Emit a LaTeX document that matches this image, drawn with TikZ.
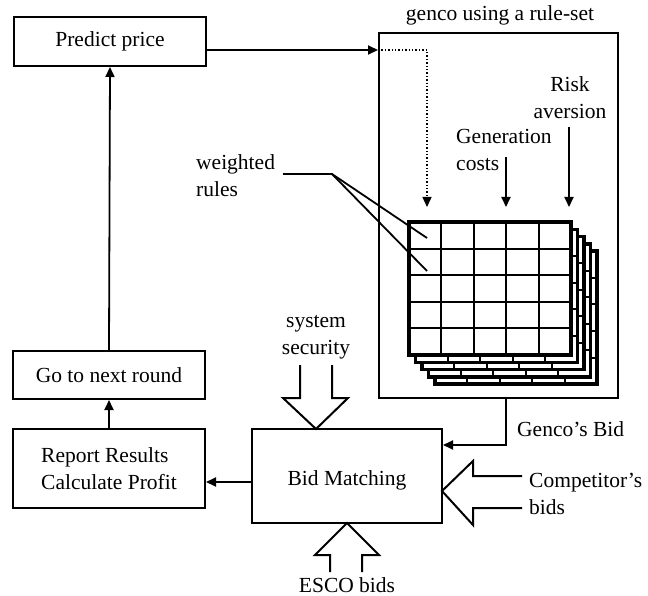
\documentclass[tikz,border=0pt]{standalone}
\usepackage{fontspec}
\setmainfont{Liberation Serif}
\usetikzlibrary{arrows.meta,calc}
\begin{document}
\begin{tikzpicture}[x=1pt,y=-1pt,
  every node/.style={font=\fontsize{21.5}{27}\selectfont, inner sep=0pt},
  box/.style={draw, line width=2pt, minimum width=192pt},
  arr/.style={line width=1.8pt, -{Triangle[length=10pt,width=9pt]}},
  dotarr/.style={line width=1.4pt, dotted, -{Triangle[length=10pt,width=9pt]}},
  plain/.style={line width=1.8pt},
  blockarr/.style={line width=2pt, line join=miter},
  gridbord/.style={line width=3.5pt, fill=white},
  gridline/.style={line width=2pt}
]
\useasboundingbox (0,0) rectangle (648,596);

% boxes
\node[box, minimum height=49pt] (pp) at (110,41.5) {Predict price};
\node[box, minimum height=48pt] (gn) at (109,375) {Go to next round};
\node[box, minimum height=79pt, align=left] (rr) at (109,468.5) {Report Results\\Calculate Profit};
\node[box, minimum width=190pt, minimum height=94pt] (bm) at (347,476) {};
\node (bmt) at (347,480) {Bid Matching};
\node[draw, line width=2pt, minimum width=239pt, minimum height=365pt] (genco) at (498.5,215.5) {};
\node (gtitle) at (500,15) {genco using a rule-set};

% stacked rule grids (back to front)
\foreach \k in {4,3,2,1,0} {
  \begin{scope}[shift={({6.5*\k},{7.3*\k})}]
    \draw[gridbord] (409,222) rectangle (571,355);
    \foreach \cx in {441.4,473.8,506.2,538.6}
      \draw[gridline] (\cx,222) -- (\cx,355);
    \foreach \ry in {248.6,275.2,301.8,328.4}
      \draw[gridline] (409,\ry) -- (571,\ry);
    \draw[line width=3.5pt] (409,222) rectangle (571,355);
  \end{scope}
}

% predict price -> genco (solid then dotted inside)
\coordinate (dcorner) at (427,50);
\coordinate (dtip) at (427,207);
\coordinate (gedge) at (genco.west |- dcorner);
\draw[arr] (pp.east |- dcorner) -- (gedge);
\draw[dotarr] (gedge) -- (dcorner) -- (dtip);

% generation costs and risk aversion
\node[align=left, anchor=west] (gc) at (456,150) {Generation\\costs};
\coordinate (gcs) at (506,157);
\coordinate (gct) at (506,207);
\draw[arr] (gcs) -- (gct);
\node[align=center] (ra) at (570,98) {Risk\\aversion};
\coordinate (ras) at (569,127);
\coordinate (rat) at (569,207);
\draw[arr] (ras) -- (rat);

% weighted rules
\node[align=left, anchor=west] (wr) at (196,176) {weighted\\rules};
\coordinate (w0) at (283,174);
\coordinate (w1) at (332,174);
\coordinate (wa) at (427,238);
\coordinate (wb) at (427,271);
\draw[plain] (w0) -- (w1) -- (wa);
\draw[plain] (w1) -- (wb);

% left column flow
\coordinate (ly) at (0,482);
\draw[arr] (gn.north) -- (pp.south);
\draw[arr] (rr.north) -- (gn.south);
\draw[arr] (bm.west |- ly) -- (rr.east |- ly);

% genco's bid
\coordinate (gb1) at (506,445);
\draw[arr] (genco.south -| gb1) -- (gb1) -- (bm.east |- gb1);
\node[anchor=west] (gbl) at (517,429) {Genco's Bid};

% system security block arrow
\node[align=center] (ss) at (316,337) {system\\security};
\draw[blockarr] (300,365) -- (300,398) -- (283,398) -- (316,429) -- (348,398) -- (332,398) -- (332,365);

% ESCO bids block arrow
\node (esco) at (347,585) {ESCO bids};
\draw[blockarr] (330,572) -- (330,555) -- (315,555) -- (347,523) -- (379,555) -- (362,555) -- (362,572);

% competitor's bids block arrow
\node[align=left, anchor=west] (cb) at (529,494) {Competitor's\\bids};
\draw[blockarr] (522,476) -- (473,476) -- (473,461) -- (442,491) -- (473,525) -- (473,508) -- (522,508);
\end{tikzpicture}
\end{document}
